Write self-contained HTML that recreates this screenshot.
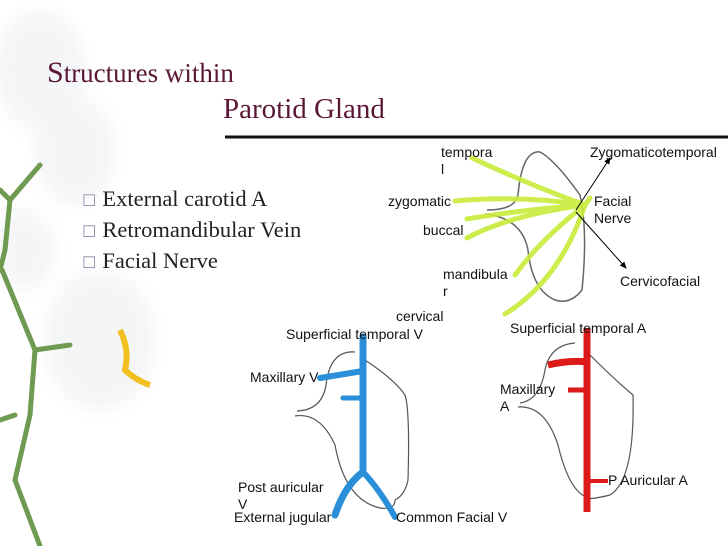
<!DOCTYPE html>
<html><head><meta charset="utf-8"><style>
body{margin:0;width:728px;height:546px;overflow:hidden;background:#fff;position:relative;font-family:"Liberation Sans",sans-serif}
.t{position:absolute;font-family:"Liberation Serif",serif;color:#5a1836;white-space:nowrap}
.b{position:absolute;font-family:"Liberation Serif",serif;font-size:22.5px;color:#222;white-space:nowrap}
.b span{color:#8a8ab0;font-size:16px;margin-right:6px}
.l{position:absolute;font-size:14px;color:#111;line-height:17px;white-space:nowrap}
</style></head><body>
<svg width="728" height="546" style="position:absolute;left:0;top:0">
<defs><filter id="bl"><feGaussianBlur stdDeviation="8"/></filter>
<marker id="ar" markerWidth="8" markerHeight="8" refX="6" refY="3" orient="auto"><path d="M0,0L7,3L0,6z" fill="#000"/></marker></defs>
<g filter="url(#bl)" fill="#f4f5f7">
<ellipse cx="40" cy="70" rx="45" ry="60"/>
<ellipse cx="75" cy="150" rx="40" ry="55"/>
<ellipse cx="100" cy="340" rx="55" ry="70"/>
<ellipse cx="25" cy="250" rx="30" ry="40"/>
</g>
<g fill="none" stroke="#6f9a52" stroke-width="5" stroke-linecap="round">
<path d="M0,190 L10,200 L5,250 L0,270"/>
<path d="M10,200 L40,165"/>
<path d="M2,270 L35,350 L30,415 L15,480 L40,546"/>
<path d="M35,350 L70,345"/>
<path d="M15,415 L0,420"/>
</g>
<path d="M120,330 q10,20 5,40 q10,10 25,15" stroke="#f0c020" stroke-width="6" fill="none"/>
<line x1="225" y1="137" x2="728" y2="137" stroke="#111" stroke-width="3"/>
<path d="M487,210 Q515,210 518,195 Q522,150 540,152 Q555,160 580,195 Q588,230 582,290 Q570,305 555,300 Q532,290 528,250 Q522,218 485,214" fill="none" stroke="#666" stroke-width="1.5"/>
<g stroke="#c8ec3a" stroke-width="5" fill="none" stroke-linecap="round" opacity=".9">
<path d="M585,205 Q530,185 472,158"/>
<path d="M585,205 Q520,195 455,201"/>
<path d="M585,205 Q520,210 467,219"/>
<path d="M585,205 Q510,215 467,238"/>
<path d="M585,205 Q540,240 515,275"/>
<path d="M585,205 Q560,280 505,314"/>
<path d="M585,205 L590,198"/>
</g>
<line x1="576" y1="210" x2="610" y2="158" stroke="#000" marker-end="url(#ar)"/>
<line x1="576" y1="212" x2="626" y2="268" stroke="#000" marker-end="url(#ar)"/>
<path d="M297,411 Q322,410 326,385 Q330,350 355,352 M365,360 Q395,380 405,395 Q410,410 408,480 Q405,495 395,500 M295,416 Q320,412 335,445 Q345,500 380,508 Q395,510 395,500" fill="none" stroke="#555" stroke-width="1.2"/>
<g stroke="#2a8fd8" fill="none" stroke-linecap="round">
<path d="M363,337 L363,473" stroke-width="7"/>
<path d="M363,371 L320,378" stroke-width="6"/>
<path d="M363,398 L343,398" stroke-width="5"/>
<path d="M363,472 Q345,485 335,515" stroke-width="7"/>
<path d="M363,472 Q380,490 395,517" stroke-width="6"/>
</g>
<path d="M520,403 Q540,400 545,370 Q550,345 575,343 M590,355 Q615,380 633,395 Q635,480 610,495 Q590,500 585,498 M518,407 Q545,405 558,445 Q570,495 590,498" fill="none" stroke="#555" stroke-width="1.2"/>
<g stroke="#dd1a1a" fill="none">
<path d="M587,328 L587,512" stroke-width="7"/>
<path d="M587,362 Q570,360 548,365" stroke-width="7"/>
<path d="M587,390 L568,390" stroke-width="5"/>
<path d="M587,481 L608,481" stroke-width="4"/>
</g>
</svg>
<div class="t" style="left:47px;top:56px;font-size:30px">S<span style="font-size:27px">tructures within</span></div>
<div class="t" style="left:223px;top:93px;font-size:29px">Parotid Gland</div>
<div class="b" style="left:82px;top:186px"><span>☐</span>External carotid A</div>
<div class="b" style="left:82px;top:217px"><span>☐</span>Retromandibular Vein</div>
<div class="b" style="left:82px;top:248px"><span>☐</span>Facial Nerve</div>
<div class="l" style="left:441px;top:144px">tempora<br>l</div>
<div class="l" style="left:388px;top:193px">zygomatic</div>
<div class="l" style="left:423px;top:222px">buccal</div>
<div class="l" style="left:443px;top:266px">mandibula<br>r</div>
<div class="l" style="left:396px;top:308px">cervical</div>
<div class="l" style="left:590px;top:144px">Zygomaticotemporal</div>
<div class="l" style="left:594px;top:193px">Facial<br>Nerve</div>
<div class="l" style="left:620px;top:273px">Cervicofacial</div>
<div class="l" style="left:286px;top:326px">Superficial temporal V</div>
<div class="l" style="left:510px;top:320px">Superficial temporal A</div>
<div class="l" style="left:250px;top:369px">Maxillary V</div>
<div class="l" style="left:500px;top:381px">Maxillary<br>A</div>
<div class="l" style="left:608px;top:472px">P Auricular A</div>
<div class="l" style="left:238px;top:479px">Post auricular<br>V</div>
<div class="l" style="left:234px;top:509px">External jugular</div>
<div class="l" style="left:396px;top:509px">Common Facial V</div>
</body></html>
